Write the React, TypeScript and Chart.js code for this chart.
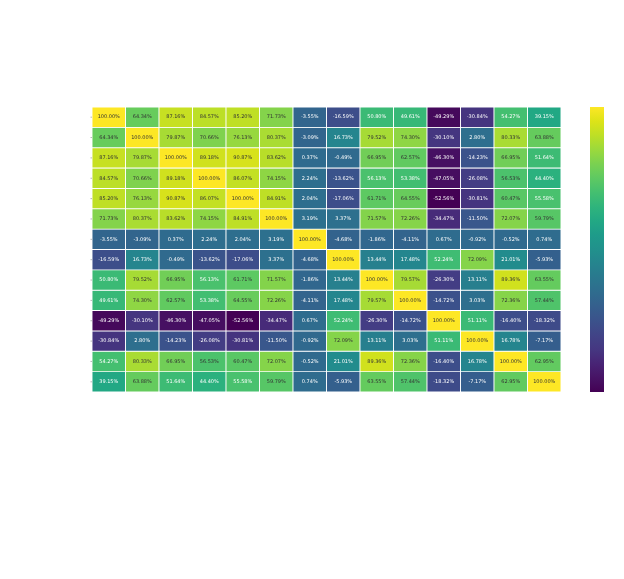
import React, { useEffect, useRef } from "react";
import { Chart, registerables } from "chart.js";

Chart.register(...registerables);

const columns: string[] = ["c0", "c1", "c2", "c3", "c4", "c5", "c6", "c7", "c8", "c9", "c10", "c11", "c12", "c13"];

const row0 = [100, 64.34, 87.16, 84.57, 85.2, 71.73, -3.55, -16.59, 50.8, 49.61, -49.29, -30.84, 54.27, 39.15];
const row1 = [64.34, 100, 79.87, 70.66, 76.13, 80.37, -3.09, 16.73, 79.52, 74.3, -30.1, 2.8, 80.33, 63.88];
const row2 = [87.16, 79.87, 100, 89.18, 90.87, 83.62, 0.37, -0.49, 66.95, 62.57, -46.3, -14.23, 66.95, 51.64];
const row3 = [84.57, 70.66, 89.18, 100, 86.07, 74.15, 2.24, -13.62, 56.13, 53.38, -47.05, -26.08, 56.53, 44.4];
const row4 = [85.2, 76.13, 90.87, 86.07, 100, 84.91, 2.04, -17.06, 61.71, 64.55, -52.56, -30.81, 60.47, 55.58];
const row5 = [71.73, 80.37, 83.62, 74.15, 84.91, 100, 3.19, 3.37, 71.57, 72.26, -34.47, -11.5, 72.07, 59.79];
const row6 = [-3.55, -3.09, 0.37, 2.24, 2.04, 3.19, 100, -4.68, -1.86, -4.11, 0.67, -0.92, -0.52, 0.74];
const row7 = [-16.59, 16.73, -0.49, -13.62, -17.06, 3.37, -4.68, 100, 13.44, 17.48, 52.24, 72.09, 21.01, -5.93];
const row8 = [50.8, 79.52, 66.95, 56.13, 61.71, 71.57, -1.86, 13.44, 100, 79.57, -26.3, 13.11, 89.36, 63.55];
const row9 = [49.61, 74.3, 62.57, 53.38, 64.55, 72.26, -4.11, 17.48, 79.57, 100, -14.72, 3.03, 72.36, 57.44];
const row10 = [-49.29, -30.1, -46.3, -47.05, -52.56, -34.47, 0.67, 52.24, -26.3, -14.72, 100, 51.11, -16.4, -18.32];
const row11 = [-30.84, 2.8, -14.23, -26.08, -30.81, -11.5, -0.92, 72.09, 13.11, 3.03, 51.11, 100, 16.78, -7.17];
const row12 = [54.27, 80.33, 66.95, 56.53, 60.47, 72.07, -0.52, 21.01, 89.36, 72.36, -16.4, 16.78, 100, 62.95];
const row13 = [39.15, 63.88, 51.64, 44.4, 55.58, 59.79, 0.74, -5.93, 63.55, 57.44, -18.32, -7.17, 62.95, 100];

const rows: number[][] = [row0, row1, row2, row3, row4, row5, row6, row7, row8, row9, row10, row11, row12, row13];

const VMIN = Math.min(...rows.map((r) => Math.min(...r)));
const VMAX = Math.max(...rows.map((r) => Math.max(...r)));

const VIRIDIS = [
  "#440154", "#471365", "#482475", "#453781", "#414487", "#3b528b", "#355f8d", "#2f6c8e", "#2a788e", "#25848e",
  "#21918c", "#1e9b8a", "#22a884", "#2fb47c", "#44bf70", "#5ec962", "#7ad151", "#9bd93c", "#bddf26", "#dde318", "#fde725",
];

function hexToRgb(h: string): number[] {
  return [parseInt(h.slice(1, 3), 16), parseInt(h.slice(3, 5), 16), parseInt(h.slice(5, 7), 16)];
}

function viridisRgb(t: number): number[] {
  const tt = Math.max(0, Math.min(1, t)) * (VIRIDIS.length - 1);
  const i = Math.min(VIRIDIS.length - 2, Math.floor(tt));
  const f = tt - i;
  const a = hexToRgb(VIRIDIS[i]);
  const b = hexToRgb(VIRIDIS[i + 1]);
  return [0, 1, 2].map((k) => Math.round(a[k] + (b[k] - a[k]) * f));
}

function colorFor(v: number): string {
  const c = viridisRgb((v - VMIN) / (VMAX - VMIN));
  return `rgb(${c[0]},${c[1]},${c[2]})`;
}

function textColorFor(v: number): string {
  const c = viridisRgb((v - VMIN) / (VMAX - VMIN)).map((x) => {
    const s = x / 255;
    return s <= 0.03928 ? s / 12.92 : Math.pow((s + 0.055) / 1.055, 2.4);
  });
  const lum = 0.2126 * c[0] + 0.7152 * c[1] + 0.0722 * c[2];
  return lum > 0.408 ? "#333333" : "#ffffff";
}

const annotPlugin = {
  id: "annot",
  afterDatasetsDraw(chart: any) {
    const ctx = chart.ctx;
    ctx.save();
    ctx.font = "5px 'DejaVu Sans'";
    ctx.textAlign = "center";
    ctx.textBaseline = "middle";
    rows.forEach((row, i) => {
      const meta = chart.getDatasetMeta(i);
      meta.data.forEach((el: any, j: number) => {
        const v = row[j];
        ctx.fillStyle = textColorFor(v);
        ctx.fillText(v.toFixed(2) + "%", el.x, (el.y + el.base) / 2);
      });
    });
    // faint left tick marks
    const area = chart.chartArea;
    const ys = chart.scales.y;
    ctx.strokeStyle = "#888";
    ctx.lineWidth = 0.6;
    for (let i = 0; i < rows.length; i++) {
      const y = ys.getPixelForValue(i + 0.5);
      ctx.beginPath();
      ctx.moveTo(area.left - 1.5, y);
      ctx.lineTo(area.left, y);
      ctx.stroke();
    }
    // colorbar
    const cbLeft = area.right + 29;
    const cbW = 14;
    const grad = ctx.createLinearGradient(0, area.bottom, 0, area.top);
    VIRIDIS.forEach((c, k) => grad.addColorStop(k / (VIRIDIS.length - 1), c));
    ctx.fillStyle = grad;
    ctx.fillRect(cbLeft, area.top, cbW, area.bottom - area.top);
    ctx.restore();
  },
};

export default function App() {
  const ref = useRef<HTMLCanvasElement | null>(null);
  useEffect(() => {
    if (!ref.current) return;
    const chart = new Chart(ref.current, {
      type: "bar",
      data: {
        labels: columns,
        datasets: rows.map((row, i) => ({
          label: "r" + i,
          data: columns.map(() => [i, i + 1]) as any,
          backgroundColor: row.map((v) => colorFor(v)),
          borderColor: "#ffffff",
          borderWidth: 0.8,
          borderSkipped: false,
          barPercentage: 1,
          categoryPercentage: 1,
          grouped: false,
        })),
      },
      options: {
        responsive: false,
        animation: false,
        layout: { padding: { left: 92, right: 63, top: 107, bottom: 187 } },
        plugins: { legend: { display: false }, tooltip: { enabled: false } },
        scales: {
          x: { display: false, offset: true },
          y: { display: false, min: 0, max: 14, reverse: true },
        },
      },
      plugins: [annotPlugin],
    });
    return () => chart.destroy();
  }, []);
  return (
    <div style={{ position: "absolute", left: 0, top: 0, width: 624, height: 579, background: "#fff" }}>
      <canvas ref={ref} width={624} height={579} />
    </div>
  );
}
